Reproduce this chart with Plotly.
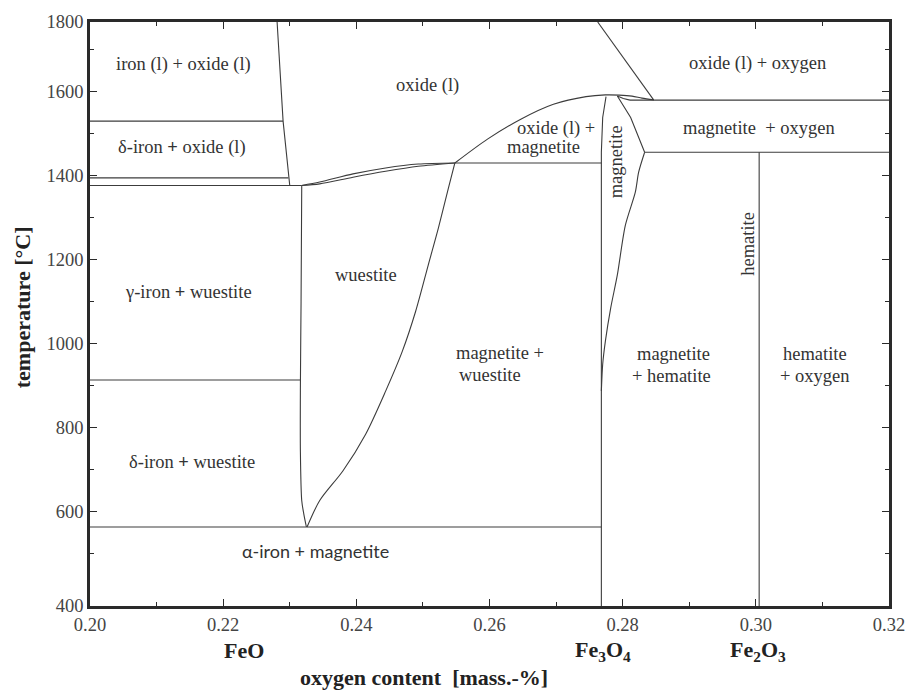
import plotly.graph_objects as go

# ---------------- axes ----------------
x_range = [0.20, 0.32]
t_range = [375, 1765]
x_ticks = [0.20, 0.22, 0.24, 0.26, 0.28, 0.30, 0.32]
x_ticklabels = ["0.20", "0.22", "0.24", "0.26", "0.28", "0.30", "0.32"]
x_minor = [0.21, 0.23, 0.25, 0.27, 0.29, 0.31]
t_ticks = [375, 600, 800, 1000, 1200, 1400, 1600, 1765]
t_ticklabels = ["400", "600", "800", "1000", "1200", "1400", "1600", "1800"]
t_minor = [500, 700, 900, 1100, 1300, 1500, 1700]

# ---------------- phase boundaries (oxygen fraction, °C) ----------------
fe_liq_x = [0.2281, 0.2290, 0.2300]
fe_liq_t = [1765, 1529, 1376]

iso_monotectic_x = [0.20, 0.2290]
iso_monotectic_t = [1529, 1529]
iso_delta_x = [0.20, 0.2298]
iso_delta_t = [1394, 1394]
iso_eutectic_x = [0.20, 0.2318]
iso_eutectic_t = [1376, 1376]
iso_gamma_x = [0.20, 0.2316]
iso_gamma_t = [913, 913]
iso_eutectoid_x = [0.20, 0.2768]
iso_eutectoid_t = [563, 563]
iso_peritectic_x = [0.2548, 0.2768]
iso_peritectic_t = [1429.5, 1429.5]
iso_mag_o2_x = [0.2811, 0.32]
iso_mag_o2_t = [1579, 1579]
iso_hem_x = [0.2833, 0.32]
iso_hem_t = [1455, 1455]

wue_liq_x = [0.2318, 0.2345, 0.2395, 0.2444, 0.2493, 0.2548]
wue_liq_t = [1376, 1384, 1403.5, 1417.7, 1427, 1429.5]
wue_sol_x = [0.2318, 0.2345, 0.2395, 0.2444, 0.2493, 0.2548]
wue_sol_t = [1376, 1379.8, 1395.6, 1409.8, 1421.7, 1429.5]

wue_right_x = [0.2548, 0.2538, 0.2523, 0.2508, 0.2489, 0.2469, 0.2444, 0.2414, 0.2380, 0.2345, 0.2326]
wue_right_t = [1429.5, 1368, 1273, 1186.5, 1076, 981, 886.5, 784, 697, 626, 563]
wue_left_x = [0.2318, 0.2317, 0.2316, 0.2316, 0.2318, 0.2321, 0.2325]
wue_left_t = [1376, 1100, 900, 742, 626, 595, 563]

oxide_liq_x = [0.2548, 0.2597, 0.2647, 0.2696, 0.2745, 0.2774, 0.2795, 0.2814, 0.2829, 0.2847]
oxide_liq_t = [1429.5, 1486.3, 1533.7, 1569.2, 1587.4, 1591.5, 1591, 1588.6, 1583.9, 1579.6]
mag_sol_x = [0.2792, 0.2801, 0.2811]
mag_sol_t = [1589, 1582.7, 1579]

mag_left_x = [0.2775, 0.2770, 0.2768, 0.2768]
mag_left_t = [1587.4, 1537.7, 1455, 375]
mag_right_top_x = [0.2792, 0.2812, 0.2833]
mag_right_top_t = [1589, 1537.7, 1455]
mag_right_low_x = [0.2833, 0.2824, 0.2819, 0.2804, 0.2792, 0.2782, 0.2774, 0.2770, 0.2768]
mag_right_low_t = [1455, 1407.5, 1360, 1281, 1163, 1084, 1005, 950.5, 886.5]

oxygen_x = [0.27625, 0.28465]
oxygen_t = [1765, 1579.6]
hematite_x = [0.3005, 0.3005]
hematite_t = [1455, 375]

straight_lines = [
    (fe_liq_x, fe_liq_t), (iso_monotectic_x, iso_monotectic_t), (iso_delta_x, iso_delta_t),
    (iso_eutectic_x, iso_eutectic_t), (iso_gamma_x, iso_gamma_t), (iso_eutectoid_x, iso_eutectoid_t),
    (iso_peritectic_x, iso_peritectic_t), (iso_mag_o2_x, iso_mag_o2_t), (iso_hem_x, iso_hem_t),
    (mag_right_top_x, mag_right_top_t), (oxygen_x, oxygen_t), (hematite_x, hematite_t),
    (mag_left_x, mag_left_t), (mag_sol_x, mag_sol_t),
]
curved_lines = [
    (wue_liq_x, wue_liq_t), (wue_sol_x, wue_sol_t), (wue_right_x, wue_right_t),
    (wue_left_x, wue_left_t), (oxide_liq_x, oxide_liq_t),
    (mag_right_low_x, mag_right_low_t),
]

# ---------------- region labels ----------------
label_texts = [
    "iron (l) + oxide (l)", "δ-iron <b>+</b> oxide (l)", "oxide (l)", "oxide (l) +", "magnetite",
    "oxide (l) + oxygen", "magnetite  + oxygen", "wuestite", "γ-iron <b>+</b> wuestite",
    "magnetite +", "wuestite", "magnetite", "+ hematite", "hematite", "+ oxygen",
    "δ-iron <b>+</b> wuestite",
]
label_x = [0.2141, 0.2138, 0.2507, 0.2700, 0.2681, 0.3003, 0.3004, 0.2414, 0.2148,
           0.2616, 0.2600, 0.2876, 0.2874, 0.3089, 0.3089, 0.2153]
label_t = [1664, 1467, 1613, 1512, 1467, 1666, 1512, 1163, 1123,
           977, 924, 975, 922, 975, 922, 718]

vertical_texts = ["magnetite", "hematite"]
vertical_x = [0.2790, 0.2989]
vertical_t = [1431, 1236]

sans_text = "α-iron + magnetite"
sans_x = 0.2339
sans_t = 505

compound_texts = ["FeO", "Fe<sub>3</sub>O<sub>4</sub>", "Fe<sub>2</sub>O<sub>3</sub>"]
compound_x = [0.2232, 0.2770, 0.3003]

SERIF = "Liberation Serif"
LINE_COLOR = "#3c3c3c"

fig = go.Figure()
for xs, ts in straight_lines:
    fig.add_trace(go.Scatter(x=xs, y=ts, mode="lines",
                             line=dict(color=LINE_COLOR, width=1.1), hoverinfo="skip"))
for xs, ts in curved_lines:
    fig.add_trace(go.Scatter(x=xs, y=ts, mode="lines",
                             line=dict(color=LINE_COLOR, width=1.1, shape="spline", smoothing=0.8),
                             hoverinfo="skip"))

annotations = []
for txt, xv, tv in zip(label_texts, label_x, label_t):
    annotations.append(dict(x=xv, y=tv, xref="x", yref="y", text=txt, showarrow=False,
                            font=dict(family=SERIF, size=18.5, color="#333")))
for txt, xv, tv in zip(vertical_texts, vertical_x, vertical_t):
    annotations.append(dict(x=xv, y=tv, xref="x", yref="y", text=txt, showarrow=False,
                            textangle=-90, font=dict(family=SERIF, size=18.5, color="#333")))
annotations.append(dict(x=sans_x, y=sans_t, xref="x", yref="y", text=sans_text, showarrow=False,
                        font=dict(family="Lato", size=18, color="#333")))
for txt, xv in zip(compound_texts, compound_x):
    annotations.append(dict(x=xv, y=-0.0767, xref="x", yref="paper", text="<b>" + txt + "</b>",
                            showarrow=False, yanchor="middle",
                            font=dict(family=SERIF, size=22, color="#222")))
annotations.append(dict(x=0.2502, y=-0.122, xref="x", yref="paper",
                        text="<b>oxygen content  [mass.-%]</b>", showarrow=False, yanchor="middle",
                        font=dict(family=SERIF, size=22, color="#222")))
annotations.append(dict(x=-0.0843, y=0.511, xref="paper", yref="paper",
                        text="<b>temperature [°C]</b>", showarrow=False, textangle=-90,
                        xanchor="center", yanchor="middle",
                        font=dict(family=SERIF, size=22, color="#222")))

axis_common = dict(showgrid=False, zeroline=False, showline=True, linewidth=2.5,
                   linecolor="#2a2a2a", mirror="ticks", ticks="inside", ticklen=7,
                   tickwidth=1.3, tickcolor="#2a2a2a",
                   tickfont=dict(family=SERIF, size=18.5, color="#444"))

fig.update_layout(
    width=917, height=691,
    margin=dict(l=90, r=17, t=19, b=85),
    plot_bgcolor="white", paper_bgcolor="white",
    showlegend=False,
    font=dict(family=SERIF),
    annotations=annotations,
    xaxis=dict(range=x_range, tickmode="array", tickvals=x_ticks, ticktext=x_ticklabels,
               minor=dict(tickmode="array", tickvals=x_minor, ticks="inside", ticklen=4,
                          tickcolor="#2a2a2a", showgrid=False),
               **axis_common),
    yaxis=dict(range=t_range, tickmode="array", tickvals=t_ticks, ticktext=t_ticklabels,
               minor=dict(tickmode="array", tickvals=t_minor, ticks="inside", ticklen=4,
                          tickcolor="#2a2a2a", showgrid=False),
               **axis_common),
)

fig.write_html("out.html")
